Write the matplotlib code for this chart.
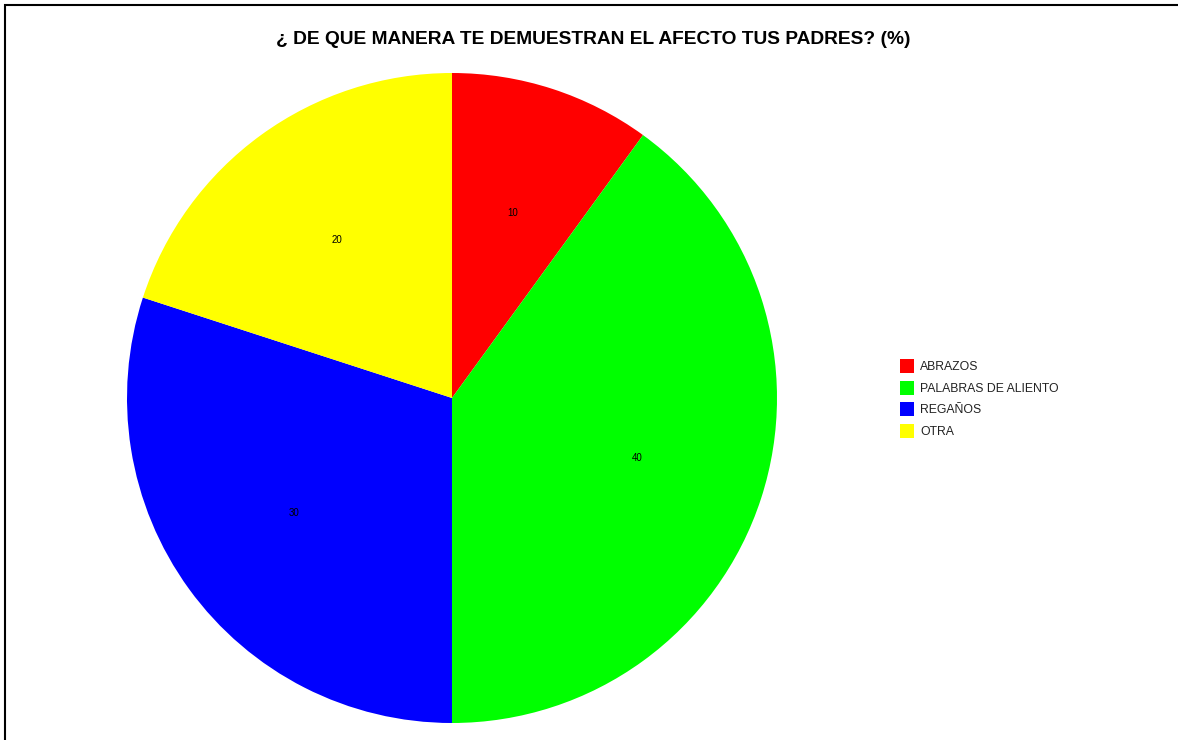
import matplotlib.pyplot as plt
from matplotlib.patches import Rectangle

# datos
categorias = ['ABRAZOS', 'PALABRAS DE ALIENTO', 'REGAÑOS', 'OTRA']
porcentajes = [10, 40, 30, 20]
colores = ['#ff0000', '#00ff00', '#0000ff', '#ffff00']
titulo = '¿ DE QUE MANERA TE DEMUESTRAN EL AFECTO TUS PADRES? (%)'

W, H = 1178, 740
plt.rcParams['font.family'] = ['Liberation Sans', 'DejaVu Sans']

fig = plt.figure(figsize=(W / 100, H / 100), dpi=100)

# pie area in pixels: centre (452, 398), radius 325
cx, cy, r = 452, 398, 325
ax = fig.add_axes([(cx - r) / W, (H - cy - r) / H, 2 * r / W, 2 * r / H])
wedges, textos = ax.pie(porcentajes, colors=colores, startangle=90, counterclock=False,
                        labels=[str(p) for p in porcentajes], labeldistance=0.6,
                        textprops={'fontsize': 7, 'color': 'black'})
for t in textos:
    t.set_horizontalalignment('center')
    t.set_verticalalignment('center')
ax.set_xlim(-1, 1)
ax.set_ylim(-1, 1)
ax.set_aspect('equal')
ax.axis('off')

fig.text(593 / W, 1 - 40 / H, titulo, ha='center', va='center',
         fontsize=13.8, fontweight='bold')

# border (top and left only visible)
fig.patches.append(Rectangle((5 / W, -0.1), 1.2, 1 - 5 / H + 0.1, transform=fig.transFigure,
                             fill=False, edgecolor='black', linewidth=1.5, clip_on=False))

# legend
for i, (cat, col) in enumerate(zip(categorias, colores)):
    y = 366 + i * 21.7
    fig.patches.append(Rectangle((900 / W, 1 - (y + 7) / H), 14 / W, 14 / H,
                                 transform=fig.transFigure, facecolor=col, edgecolor='none'))
    fig.text(920 / W, 1 - (y + 1) / H, cat, ha='left', va='center', fontsize=8.8, color='#222222')

fig.savefig('out.png', dpi=100)
